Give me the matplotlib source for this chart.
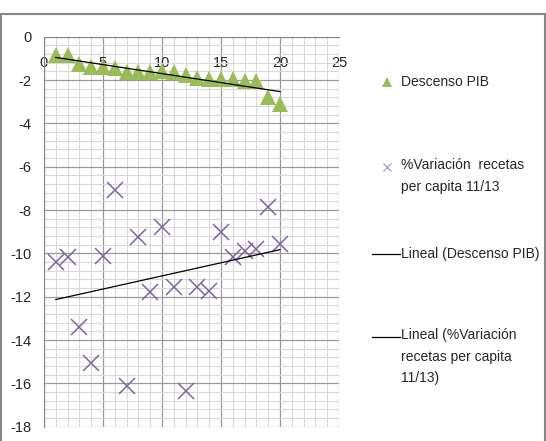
import numpy as np
import matplotlib
matplotlib.use("Agg")
import matplotlib.pyplot as plt
from matplotlib.ticker import MultipleLocator
from matplotlib.lines import Line2D
from matplotlib.patches import Rectangle

plt.rcParams['font.family'] = ['Liberation Sans', 'DejaVu Sans']

# datos
x = np.arange(1, 21)
descenso_pib = [-0.85, -0.85, -1.25, -1.4, -1.4, -1.45, -1.65, -1.65, -1.65, -1.6,
                -1.65, -1.75, -1.9, -1.97, -1.97, -1.95, -2.03, -2.03, -2.8, -3.1]
variacion_recetas = [-10.41, -10.18, -13.38, -15.07, -10.1, -7.08, -16.1, -9.23, -11.8, -8.8,
                     -11.53, -16.36, -11.53, -11.72, -9.03, -10.18, -9.87, -9.8, -7.85, -9.57]

lbl_pib = 'Descenso PIB'
lbl_var = '%Variación  recetas\nper capita 11/13'
lbl_lin_pib = 'Lineal (Descenso PIB)'
lbl_lin_var = 'Lineal (%Variación\nrecetas per capita\n11/13)'

verde = '#9BBB59'
morado = '#8064A2'
txt = '#262626'

fig = plt.figure(figsize=(5.46, 4.41), dpi=100)
ax = fig.add_axes([44 / 546, 1 - 426.7 / 441, 295 / 546, 390 / 441])

ax.plot(x, descenso_pib, linestyle='none', marker='^', markersize=11.5,
        color=verde, markeredgewidth=0, zorder=3)
ax.plot(x, variacion_recetas, linestyle='none', marker='x', markersize=11,
        color=morado, markeredgewidth=1.1, zorder=3)

# lineas de tendencia
for serie in (descenso_pib, variacion_recetas):
    m, b = np.polyfit(x, serie, 1)
    ax.plot([x[0], x[-1]], [m * x[0] + b, m * x[-1] + b], color='black', lw=0.9, zorder=4)

ax.set_xlim(0, 25)
ax.set_ylim(-18, 0)
ax.xaxis.set_major_locator(MultipleLocator(5))
ax.xaxis.set_minor_locator(MultipleLocator(1))
ax.yaxis.set_major_locator(MultipleLocator(2))
ax.yaxis.set_minor_locator(MultipleLocator(0.4))
ax.grid(which='major', color='#9a9a9a', lw=0.9)
ax.grid(which='minor', color='#d9d9d9', lw=0.8)
ax.set_axisbelow(True)

for s in ('right', 'top'):
    ax.spines[s].set_visible(False)
ax.spines['bottom'].set_position(('data', 0))
ax.spines['bottom'].set_color('#868686')
ax.spines['left'].set_color('#868686')
ax.tick_params(which='both', length=0)
ax.tick_params(axis='x', pad=14, labelsize=10.5, labelcolor=txt)
ax.tick_params(axis='y', pad=9, labelsize=10.5, labelcolor=txt)
ax.set_xticks([0, 5, 10, 15, 20, 25])
ax.set_xticklabels(['0', '5', '10', '15', '20', '25'])
ax.set_yticks(np.arange(-18, 1, 2))
ax.set_yticklabels([str(v) for v in np.arange(-18, 1, 2)])

# leyenda manual
def fy(py):
    return 1 - py / 441

def fx(px):
    return px / 546

fs = 10
fig.add_artist(Line2D([fx(387)], [fy(82)], marker='^', markersize=7, color=verde,
                      markeredgewidth=0, linestyle='none'))
fig.text(fx(401), fy(82), lbl_pib, fontsize=fs, color=txt, va='center')
fig.add_artist(Line2D([fx(387)], [fy(167)], marker='x', markersize=6, color=morado,
                      markeredgewidth=0.8, linestyle='none', alpha=0.7))
fig.text(fx(401), fy(158), lbl_var, fontsize=fs, color=txt, va='top',
         linespacing=1.7)
fig.add_artist(Line2D([fx(372), fx(400)], [fy(254), fy(254)], color='black', lw=0.9))
fig.text(fx(401), fy(254), lbl_lin_pib, fontsize=fs, color=txt, va='center')
fig.add_artist(Line2D([fx(372), fx(400)], [fy(337), fy(337)], color='black', lw=0.9))
fig.text(fx(401), fy(328), lbl_lin_var, fontsize=fs, color=txt, va='top',
         linespacing=1.7)

fig.add_artist(Rectangle((fx(1), -0.1), fx(544), fy(14) + 0.1, fill=False,
                         edgecolor='#878787', lw=1.5, transform=fig.transFigure))

fig.savefig('out.png', dpi=100)
